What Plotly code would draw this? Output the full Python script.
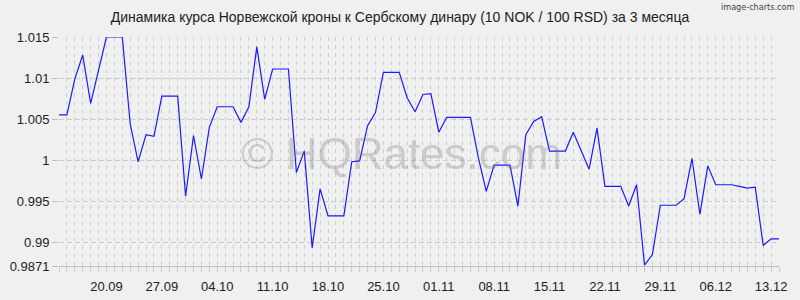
import plotly.graph_objects as go
import pandas as pd

# ---- data ----
start_date = "2024-09-14"
rates = [
    1.0055, 1.0055, 1.0099, 1.0128, 1.0069, 1.0111, 1.0150, 1.0150, 1.0150,
    1.0044, 0.9998, 1.0031, 1.0029, 1.0078, 1.0078, 1.0078,
    0.9956, 1.0030, 0.9977, 1.0040, 1.0065, 1.0065, 1.0065,
    1.0046, 1.0065, 1.0138, 1.0074, 1.0111, 1.0111, 1.0111,
    0.9985, 1.0011, 0.9893, 0.9965, 0.9932, 0.9932, 0.9932,
    0.9998, 0.9999, 1.0042, 1.0058, 1.0107, 1.0107, 1.0107,
    1.0076, 1.0059, 1.0080, 1.0081, 1.0034, 1.0052, 1.0052, 1.0052, 1.0052,
    1.0003, 0.9962, 0.9994, 0.9994, 0.9994,
    0.9944, 1.0031, 1.0047, 1.0053, 1.0011, 1.0011, 1.0011,
    1.0034, 1.0011, 0.9989, 1.0039, 0.9968, 0.9968, 0.9968,
    0.9944, 0.9970, 0.9872, 0.9885, 0.9945, 0.9945, 0.9945,
    0.9953, 1.0002, 0.9934, 0.9993, 0.9970, 0.9970, 0.9970,
    0.9968, 0.9966, 0.9967, 0.9896, 0.9904, 0.9904,
]
x_tick_labels = ["20.09", "27.09", "04.10", "11.10", "18.10", "25.10", "01.11",
                 "08.11", "15.11", "22.11", "29.11", "06.12", "13.12"]
y_tick_vals = [0.9871, 0.99, 0.995, 1.0, 1.005, 1.01, 1.015]
y_tick_text = ["0.9871", "0.99", "0.995", "1", "1.005", "1.01", "1.015"]
title_text = "Динамика курса Норвежской кроны к Сербскому динару (10 NOK / 100 RSD) за 3 месяца"

dates = pd.date_range(start_date, periods=len(rates), freq="D")
x_tick_vals = [pd.Timestamp(f"2024-{l[3:]}-{l[:2]}") for l in x_tick_labels]

GRID = "#cdcdcd"
BG = "#f0f0f0"
FONT = "Liberation Sans, Arial, sans-serif"

fig = go.Figure()
fig.add_trace(go.Scatter(
    x=dates, y=rates, mode="lines",
    line=dict(color="#1a1aff", width=1.2),
    hoverinfo="skip",
))

fig.update_layout(
    width=800, height=300,
    margin=dict(l=59, r=21, t=37, b=34, pad=0, autoexpand=False),
    paper_bgcolor=BG, plot_bgcolor=BG,
    showlegend=False,
    font=dict(family=FONT, size=13, color="#222222"),
    title=dict(text=title_text, x=0.5, xanchor="center", xref="container",
               y=1 - 17 / 300, yanchor="middle", yref="container",
               font=dict(family=FONT, size=14, color="#222222")),
)

fig.update_xaxes(
    range=[dates[0], dates[-1]],
    tickmode="array", tickvals=x_tick_vals, ticktext=x_tick_labels,
    showgrid=True, gridcolor=GRID, griddash="4px,4px", gridwidth=1,
    ticks="outside", ticklen=5, tickcolor=GRID,
    ticklabelstandoff=3, automargin=False,
    showline=True, linecolor="#bdbdbd", linewidth=1,
    minor=dict(dtick=86400000, tick0=dates[0], showgrid=True, gridcolor=GRID,
               griddash="4px,4px", gridwidth=1, ticks="outside", ticklen=5,
               tickcolor=GRID),
    tickfont=dict(family=FONT, size=13, color="#222222"),
    zeroline=False, fixedrange=True,
)
fig.update_yaxes(
    range=[0.9871, 1.015],
    tickmode="array", tickvals=y_tick_vals, ticktext=y_tick_text,
    showgrid=True, gridcolor=GRID, griddash="5px,3px", gridwidth=1,
    ticks="outside", ticklen=6, tickcolor="#bdbdbd",
    showline=False, zeroline=False, automargin=False,
    tickfont=dict(family=FONT, size=13, color="#222222"),
    fixedrange=True,
)

fig.add_annotation(
    text="© HQRates.com", xref="paper", yref="paper", x=0.476, y=0.49,
    xanchor="center", yanchor="middle", showarrow=False,
    font=dict(family=FONT, size=44, color="rgba(110,110,110,0.28)"),
)
fig.add_annotation(
    text="image-charts.com", xref="paper", yref="paper", x=1, y=1,
    xanchor="right", yanchor="middle", xshift=17, yshift=30, showarrow=False,
    font=dict(family="DejaVu Sans Condensed, DejaVu Sans", size=9, color="#444444"),
)

fig.write_html("out.html")
